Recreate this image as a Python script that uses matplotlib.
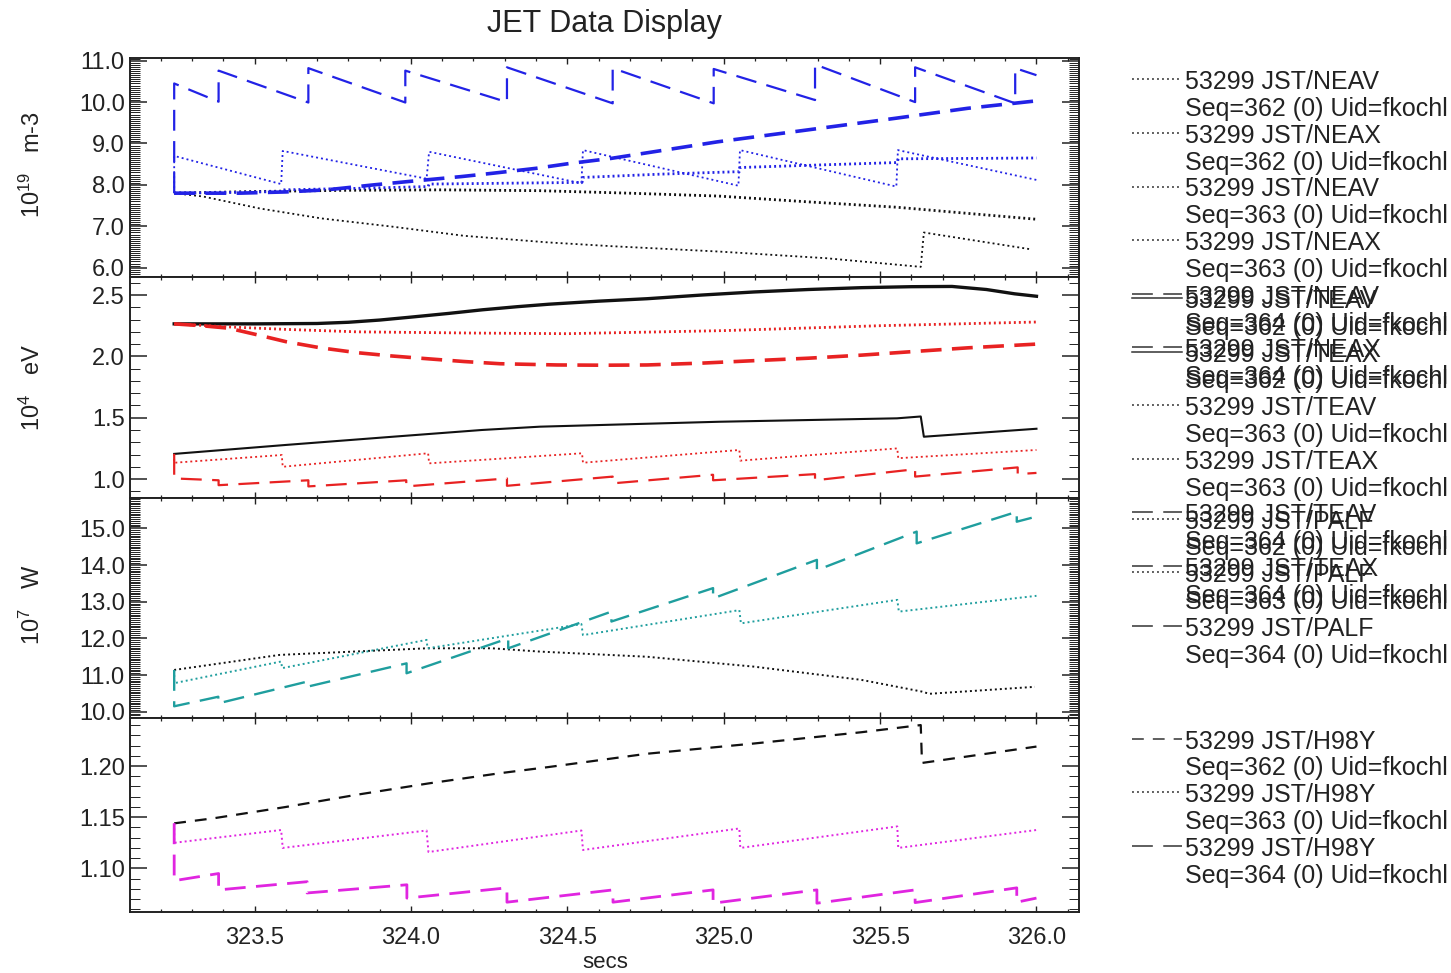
import matplotlib
matplotlib.use("Agg")
import matplotlib.pyplot as plt
from matplotlib.lines import Line2D
from matplotlib.ticker import MultipleLocator, FormatStrFormatter

plt.rcParams['font.family'] = ['Liberation Sans', 'DejaVu Sans']
plt.rcParams['mathtext.fontset'] = 'custom'
plt.rcParams['mathtext.rm'] = 'Liberation Sans'
plt.rcParams['mathtext.default'] = 'regular'
plt.rcParams['lines.scale_dashes'] = False

# ---------------- data ----------------
pulse = "53299"
seqs = ["362", "363", "364"]
xticks = [323.5, 324.0, 324.5, 325.0, 325.5, 326.0]

# Panel 1 : density (1e19 m-3)
t_neav362 = [323.243, 323.5, 323.8, 324.1, 324.413, 324.697, 324.984, 325.27, 325.554, 325.783, 326.0]
v_neav362 = [7.80, 7.84, 7.87, 7.88, 7.86, 7.80, 7.73, 7.59, 7.46, 7.31, 7.17]
t_neax362 = [323.243, 323.335, 323.517, 323.714, 323.942, 324.17, 324.44, 324.64, 324.984, 325.326, 325.63, 325.64, 325.977]
v_neax362 = [7.80, 7.72, 7.43, 7.19, 6.99, 6.77, 6.61, 6.52, 6.39, 6.23, 6.02, 6.85, 6.45]
t_neav363 = [323.243, 323.45, 323.585, 323.59, 323.85, 324.055, 324.058, 324.3, 324.547, 324.55, 324.8, 325.05, 325.053, 325.3, 325.555, 325.558, 325.8, 326.0]
v_neav363 = [7.80, 7.82, 7.84, 7.88, 7.92, 7.96, 8.02, 8.04, 8.06, 8.18, 8.26, 8.32, 8.42, 8.48, 8.54, 8.63, 8.64, 8.65]
t_neax363 = [323.243, 323.243, 323.585, 323.59, 324.05, 324.058, 324.545, 324.55, 325.047, 325.052, 325.552, 325.557, 326.0]
v_neax363 = [7.80, 8.70, 8.02, 8.82, 8.15, 8.80, 8.04, 8.84, 7.98, 8.84, 7.96, 8.84, 8.12]
t_neav364 = [323.243, 323.45, 323.6, 323.73, 323.88, 323.99, 324.16, 324.26, 324.40, 324.51, 324.64, 324.98, 325.33, 325.55, 325.78, 326.0]
v_neav364 = [7.80, 7.80, 7.83, 7.88, 8.00, 8.08, 8.20, 8.28, 8.40, 8.52, 8.64, 9.04, 9.39, 9.61, 9.85, 10.03]
t_neax364 = [323.243, 323.243, 323.385, 323.385, 323.672, 323.672, 323.982, 323.982, 324.307, 324.307,
             324.645, 324.645, 324.968, 324.968, 325.292, 325.292, 325.612, 325.612, 325.932, 325.932, 326.0]
v_neax364 = [7.80, 10.45, 10.01, 10.76, 9.99, 10.82, 9.99, 10.76, 10.00, 10.84,
             9.97, 10.82, 9.97, 10.80, 10.05, 10.91, 10.00, 10.84, 9.97, 10.82, 10.65]

# Panel 2 : temperature (1e4 eV)
t_teav362 = [323.243, 323.5, 323.7, 323.8, 323.9, 324.0, 324.12, 324.23, 324.34, 324.44, 324.6, 324.755,
             324.93, 325.097, 325.27, 325.44, 325.6, 325.73, 325.84, 325.93, 326.0]
v_teav362 = [2.265, 2.265, 2.268, 2.278, 2.296, 2.32, 2.35, 2.38, 2.405, 2.425, 2.45, 2.47,
             2.50, 2.525, 2.545, 2.56, 2.568, 2.57, 2.545, 2.51, 2.49]
t_teax362 = [323.243, 323.6, 323.942, 324.227, 324.413, 324.984, 325.554, 325.63, 325.64, 326.0]
v_teax362 = [1.205, 1.278, 1.345, 1.40, 1.427, 1.467, 1.495, 1.51, 1.345, 1.41]
t_teav363 = [323.243, 323.417, 323.6, 323.828, 324.2, 324.5, 325.0, 325.5, 326.0]
v_teav363 = [2.265, 2.24, 2.22, 2.20, 2.19, 2.185, 2.21, 2.25, 2.28]
t_teax363 = [323.243, 323.243, 323.587, 323.59, 324.055, 324.058, 324.547, 324.55, 325.05, 325.053, 325.555, 325.558, 326.0]
v_teax363 = [1.205, 1.133, 1.196, 1.10, 1.21, 1.128, 1.21, 1.133, 1.237, 1.15, 1.25, 1.17, 1.237]
t_teav364 = [323.243, 323.33, 323.417, 323.51, 323.6, 323.71, 323.828, 323.94, 324.056, 324.17, 324.285,
             324.467, 324.62, 324.755, 324.93, 325.097, 325.27, 325.44, 325.61, 325.783, 326.0]
v_teav364 = [2.265, 2.25, 2.23, 2.175, 2.12, 2.07, 2.03, 2.003, 1.98, 1.958, 1.94,
             1.93, 1.928, 1.93, 1.945, 1.965, 1.985, 2.01, 2.04, 2.07, 2.10]
t_teax364 = [323.243, 323.243, 323.385, 323.385, 323.672, 323.672, 323.985, 323.985, 324.307, 324.307,
             324.645, 324.645, 324.966, 324.966, 325.292, 325.292, 325.612, 325.612, 325.94, 325.94, 326.0]
v_teax364 = [1.205, 1.005, 0.99, 0.95, 0.99, 0.94, 0.99, 0.94, 1.005, 0.945,
             1.02, 0.965, 1.035, 0.99, 1.04, 0.99, 1.08, 1.02, 1.095, 1.04, 1.05]

# Panel 3 : alpha power (1e7 W)
t_palf362 = [323.243, 323.58, 324.05, 324.26, 324.413, 324.755, 325.097, 325.44, 325.634, 325.657, 325.995]
v_palf362 = [11.14, 11.55, 11.73, 11.73, 11.64, 11.50, 11.23, 10.87, 10.55, 10.49, 10.68]
t_palf363 = [323.243, 323.243, 323.585, 323.588, 324.05, 324.053, 324.545, 324.55, 325.05, 325.055, 325.555, 325.56, 326.0]
v_palf363 = [11.14, 10.78, 11.37, 11.19, 11.96, 11.73, 12.39, 12.09, 12.77, 12.41, 13.05, 12.73, 13.16]
t_palf364 = [323.243, 323.243, 323.384, 323.384, 323.667, 323.667, 323.986, 323.986, 324.311, 324.311,
             324.641, 324.641, 324.966, 324.966, 325.298, 325.298, 325.617, 325.617, 325.937, 325.937, 326.0]
v_palf364 = [11.14, 10.15, 10.41, 10.23, 10.82, 10.68, 11.32, 11.05, 12.00, 11.73,
             12.73, 12.46, 13.37, 13.09, 14.14, 13.86, 14.91, 14.59, 15.45, 15.18, 15.32]

# Panel 4 : H98Y
t_h98y362 = [323.243, 323.37, 323.6, 323.828, 324.056, 324.285, 324.44, 324.755, 325.097, 325.44, 325.63, 325.634, 326.0]
v_h98y362 = [1.144, 1.149, 1.160, 1.172, 1.183, 1.193, 1.199, 1.212, 1.222, 1.233, 1.240, 1.203, 1.219]
t_h98y363 = [323.243, 323.243, 323.585, 323.59, 324.05, 324.056, 324.545, 324.55, 325.05, 325.053, 325.555, 325.558, 326.0]
v_h98y363 = [1.144, 1.125, 1.1375, 1.12, 1.137, 1.116, 1.137, 1.118, 1.139, 1.12, 1.141, 1.12, 1.1375]
t_h98y364 = [323.243, 323.243, 323.385, 323.385, 323.668, 323.668, 323.987, 323.987, 324.307, 324.307,
             324.646, 324.646, 324.966, 324.966, 325.298, 325.298, 325.612, 325.612, 325.937, 325.937, 326.0]
v_h98y364 = [1.144, 1.088, 1.095, 1.079, 1.087, 1.076, 1.084, 1.071, 1.081, 1.067,
             1.079, 1.067, 1.079, 1.066, 1.079, 1.066, 1.079, 1.0666, 1.081, 1.067, 1.071]

# ---------------- styles ----------------
BLUE, RED, TEAL, MAG, BLK = '#2222e6', '#e82222', '#1f9e9e', '#e025e0', '#111111'
DOT = (0, (1.4, 2.2))
LDASH = (0, (15, 7.5))
SDASH = (0, (8.5, 6.5))
SOLID = '-'

panels = [
    dict(ylim=(5.775, 11.058), major=1.0, minor=0.05, fmt='%.1f',
         ylabel='10$^{19}$   m-3', ylab_y=165,
         series=[(t_neav362, v_neav362, BLK, DOT, 2.0, 'NEAV', '362'),
                 (t_neax362, v_neax362, BLK, DOT, 1.3, 'NEAX', '362'),
                 (t_neav363, v_neav363, BLUE, DOT, 2.0, 'NEAV', '363'),
                 (t_neax363, v_neax363, BLUE, DOT, 1.3, 'NEAX', '363'),
                 (t_neav364, v_neav364, BLUE, LDASH, 2.6, 'NEAV', '364'),
                 (t_neax364, v_neax364, BLUE, LDASH, 1.6, 'NEAX', '364')]),
    dict(ylim=(0.848, 2.647), major=0.5, minor=0.1, fmt='%.1f',
         ylabel='10$^{4}$   eV', ylab_y=388,
         series=[(t_teav362, v_teav362, BLK, SOLID, 2.4, 'TEAV', '362'),
                 (t_teax362, v_teax362, BLK, SOLID, 1.5, 'TEAX', '362'),
                 (t_teav363, v_teav363, RED, DOT, 2.0, 'TEAV', '363'),
                 (t_teax363, v_teax363, RED, DOT, 1.3, 'TEAX', '363'),
                 (t_teav364, v_teav364, RED, LDASH, 2.6, 'TEAV', '364'),
                 (t_teax364, v_teax364, RED, LDASH, 1.6, 'TEAX', '364')]),
    dict(ylim=(9.839, 15.834), major=1.0, minor=0.05, fmt='%.1f',
         ylabel='10$^{7}$   W', ylab_y=605,
         series=[(t_palf362, v_palf362, BLK, DOT, 1.4, 'PALF', '362'),
                 (t_palf363, v_palf363, TEAL, DOT, 1.4, 'PALF', '363'),
                 (t_palf364, v_palf364, TEAL, LDASH, 1.7, 'PALF', '364')]),
    dict(ylim=(1.0577, 1.2472), major=0.05, minor=0.01, fmt='%.2f',
         ylabel=None, ylab_y=None,
         series=[(t_h98y362, v_h98y362, BLK, SDASH, 1.6, 'H98Y', '362'),
                 (t_h98y363, v_h98y363, MAG, DOT, 1.4, 'H98Y', '363'),
                 (t_h98y364, v_h98y364, MAG, LDASH, 2.0, 'H98Y', '364')]),
]

# ---------------- layout (pixels) ----------------
W, H = 1451, 973
fig = plt.figure(figsize=(W / 100, H / 100), dpi=100)
fig.patch.set_facecolor('white')

def fx(x):
    return x / W

def fy(y):
    return 1 - y / H

X0, X1 = 130.4, 1079.0
panel_px = [(58.3, 277.0), (277.0, 497.7), (497.7, 717.7), (717.7, 911.7)]
XLIM = (323.103, 326.136)

FS = 17
for i, (p, (ytop, ybot)) in enumerate(zip(panels, panel_px)):
    ax = fig.add_axes([fx(X0), fy(ybot), fx(X1) - fx(X0), (ybot - ytop) / H])
    for (t, v, c, ls, lw, sig, seq) in p['series']:
        ax.plot(t, v, color=c, linestyle=ls, linewidth=lw, dash_capstyle='butt',
                solid_joinstyle='round')
    ax.set_xlim(*XLIM)
    ax.set_ylim(*p['ylim'])
    ax.xaxis.set_major_locator(MultipleLocator(0.5))
    ax.xaxis.set_minor_locator(MultipleLocator(0.1))
    ax.yaxis.set_major_locator(MultipleLocator(p['major']))
    ax.yaxis.set_minor_locator(MultipleLocator(p['minor']))
    ax.yaxis.set_major_formatter(FormatStrFormatter(p['fmt']))
    ax.xaxis.set_major_formatter(FormatStrFormatter('%.1f'))
    ax.tick_params(axis='both', which='both', direction='in', top=True, right=True,
                   colors='#222222', labelcolor='#222222', labelsize=FS)
    ax.tick_params(axis='x', which='major', length=4.5, width=1.0, pad=11)
    ax.tick_params(axis='x', which='minor', length=2.5, width=0.9)
    ax.tick_params(axis='y', which='major', length=12, width=1.1, pad=4)
    ax.tick_params(axis='y', which='minor', length=7, width=0.7)
    if i < 3:
        ax.tick_params(axis='x', labelbottom=False)
    else:
        ax.set_xticks(xticks)
    for s in ax.spines.values():
        s.set_linewidth(1.4)
        s.set_color('#222222')
    if p['ylabel']:
        fig.text(fx(32), fy(p['ylab_y']), p['ylabel'], rotation=90, ha='center',
                 va='center', fontsize=FS, color='#222222')

    # legend (IDL style, to the right of the panel; entries run into the next panel's)
    LS = 26.8
    y0 = ytop + 24.0
    for k, (t, v, c, ls, lw, sig, seq) in enumerate(p['series']):
        yl1 = y0 + k * 2 * LS
        fig.text(fx(1185), fy(yl1), f"{pulse} JST/{sig}", ha='left', va='center',
                 fontsize=18, color='#222222')
        fig.text(fx(1185), fy(yl1 + LS), f"Seq={seq} (0) Uid=fkochl", ha='left',
                 va='center', fontsize=18, color='#222222')
        fig.add_artist(Line2D([fx(1132), fx(1182)], [fy(yl1 - 3), fy(yl1 - 3)],
                              color='#333333', linestyle=ls, linewidth=1.1,
                              dash_capstyle='butt'))

fig.text(fx(604), fy(24), "JET Data Display", ha='center', va='center', fontsize=22,
         color='#222222')
fig.text(fx(605), fy(963), "secs", ha='center', va='center', fontsize=16, color='#222222')

fig.savefig("out.png", dpi=100, facecolor='white')
